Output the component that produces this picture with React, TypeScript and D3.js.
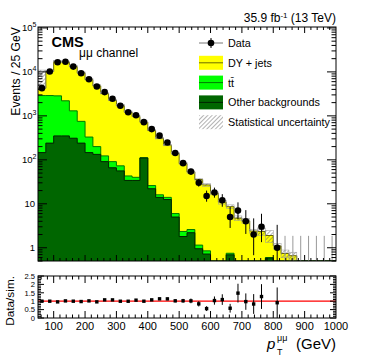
import React from 'react';
import * as d3 from 'd3';

// ---------- data ----------
const binWidth = 25;
const binLowEdges: number[] = d3.range(50, 1000, binWidth); // 38 bins, 50-1000 GeV

const dataCounts: (number | null)[] = [
  4270, 10200, 16600, 17000, 13200, 9350, 6800, 4650, 3470, 2450,
  1700, 1210, 1030, 720, 500, 355, 247, 143, 84, 54,
  30, 15, 18, 12, 5, 7, 4, 2, 3, null,
  1, 0, 0, 0, 0, 0, 0, 0,
];

const dyJets: number[] = [
  1370, 7300, 14450, 14500, 11900, 8790, 6340, 4640, 3090, 2180,
  1630, 1170, 930, 608, 437, 295, 203, 134, 79.6, 50.4,
  34.5, 26, 17, 10.6, 7.85, 4.4, 3.85, 2.15, 2.1, 1.3,
  1.0, 0.67, 0.6, 0.42, 0.3, 0.25, 0.2, 0.15,
];

const ttbar: number[] = [
  2750, 2660, 2500, 1850, 990, 510, 184, 67, 32, 25,
  17, 9, 6, 2, 4, 2, 1.5, 1, 0.55, 0.4,
  0.2, 0.13, 0.05, 0.05, 0.06, 0.03, 0.03, 0.03, 0.03, 0.02,
  0.02, 0.02, 0.01, 0.01, 0.01, 0.01, 0.01, 0.01,
];

const otherBkg: number[] = [
  146, 240, 350, 350, 310, 240, 146, 133, 91, 66,
  56, 34, 34, 110, 22, 14, 12.5, 5, 1.8, 2.2,
  0.95, 0.72, 0.3, 0.3, 0.69, 0.3, 0.22, 0.22, 0.22, 0.58,
  0.08, 0.05, 0.05, 0.04, 0.03, 0.03, 0.02, 0.02,
];

// relative statistical uncertainty of the simulation (up / down)
const statUncUp: number[] = [
  1.58, 0.02, 0.015, 0.015, 0.015, 0.015, 0.02, 0.02, 0.02, 0.02,
  0.025, 0.03, 0.03, 0.03, 0.03, 0.04, 0.04, 0.05, 0.05, 0.06,
  0.06, 0.07, 0.08, 0.1, 0.1, 0.12, 0.12, 0.1, 0.2, 0.3,
  0.15, 0.2, 0.2, 0.2, 0.2, 0.2, 0.2, 0.2,
];
const statUncDown: number[] = [
  0.02, 0.02, 0.015, 0.015, 0.015, 0.015, 0.02, 0.02, 0.02, 0.02,
  0.025, 0.03, 0.03, 0.03, 0.03, 0.04, 0.04, 0.05, 0.05, 0.06,
  0.06, 0.07, 0.08, 0.1, 0.1, 0.12, 0.12, 0.1, 0.2, 0.3,
  0.15, 0.2, 0.2, 0.2, 0.2, 0.2, 0.2, 0.2,
];

const xTickLabels: number[] = [100, 200, 300, 400, 500, 600, 700, 800, 900, 1000];
const yDecades: number[] = [1, 10, 100, 1000, 10000, 100000];
const ratioTickLabels: number[] = [0, 0.5, 1, 1.5, 2, 2.5];
const legendLabels: string[] = ['Data', 'DY + jets', 't\u0074\u0304', 'Other backgrounds', 'Statistical uncertainty'];

// ---------- style ----------
const FONT = "'Liberation Sans', Arial, Helvetica, sans-serif";
const COL_DY = '#ffff00';
const COL_TT = '#00ff00';
const COL_OTHER = '#006600';
const LINE_DY = '#6b6b00';
const LINE_TT = '#007a00';
const LINE_OTHER = '#002200';

export default function App() {
  const W = 374, H = 359;
  const L = 38, Rt = 336;
  const mainTop = 27, mainBot = 261;
  const ratTop = 276, ratBot = 318;

  const x = d3.scaleLinear().domain([50, 1000]).range([L, Rt]);
  const y = d3.scaleLog().domain([0.5, 1.05e5]).range([mainBot, mainTop]).clamp(true);
  const yr = d3.scaleLinear().domain([0, 2.5]).range([ratBot, ratTop]).clamp(true);

  const totals = binLowEdges.map((_, i) => dyJets[i] + ttbar[i] + otherBkg[i]);
  const ttPlusOther = binLowEdges.map((_, i) => ttbar[i] + otherBkg[i]);

  const steps = (vals: number[]) =>
    binLowEdges.flatMap((e, i) => [[e, vals[i]], [e + binWidth, vals[i]]] as [number, number][]);
  const area = d3.area<[number, number]>().x(d => x(d[0])).y0(mainBot).y1(d => y(d[1]));
  const line = d3.line<[number, number]>().x(d => x(d[0])).y(d => y(d[1]));

  const layers = [
    { vals: totals, fill: COL_DY, stroke: LINE_DY },
    { vals: ttPlusOther, fill: COL_TT, stroke: LINE_TT },
    { vals: otherBkg, fill: COL_OTHER, stroke: LINE_OTHER },
  ];

  // ticks
  const logTicks = y.ticks();
  const isDecade = (v: number) => Math.abs(Math.log10(v) - Math.round(Math.log10(v))) < 1e-6;
  const xMinor = d3.range(60, 1000, 20);
  const ratioMinor = d3.range(0, 2.51, 0.1);

  const binCenter = (i: number) => x(binLowEdges[i] + binWidth / 2);

  return (
    <svg width={W} height={H} style={{ position: 'absolute', left: 0, top: 0, background: '#fff' }}
      fontFamily={FONT}>
      <defs>
        <clipPath id="mainClip"><rect x={L} y={mainTop} width={Rt - L} height={mainBot - mainTop} /></clipPath>
        <clipPath id="ratClip"><rect x={L} y={ratTop} width={Rt - L} height={ratBot - ratTop} /></clipPath>
        <pattern id="hatch" width={3} height={3} patternUnits="userSpaceOnUse" patternTransform="rotate(45)">
          <line x1={0} y1={0} x2={0} y2={3} stroke="#555" strokeWidth={0.9} />
        </pattern>
      </defs>
      <rect x={0} y={0} width={W} height={H} fill="#fff" />

      {/* ---------- main panel ---------- */}
      <g clipPath="url(#mainClip)">
        {layers.map((ly, k) => (
          <g key={k}>
            <path d={area(steps(ly.vals)) || ''} fill={ly.fill} />
            <path d={line(steps(ly.vals)) || ''} fill="none" stroke={ly.stroke} strokeWidth={1} />
          </g>
        ))}
        {/* statistical uncertainty band */}
        {binLowEdges.map((e, i) => {
          const t = totals[i];
          const yHi = y(t * (1 + statUncUp[i]));
          const yLo = y(Math.max(t * (1 - statUncDown[i]), 1e-3));
          if (t < 0.5) return null;
          const h = Math.max(yLo - yHi, 1.4);
          return (
            <rect key={i} x={x(e)} y={yHi - (h > yLo - yHi ? 0.7 : 0)} width={x(e + binWidth) - x(e)} height={h}
              fill="url(#hatch)" stroke="#9a9a9a" strokeWidth={0.5} />
          );
        })}
        {/* data */}
        {dataCounts.map((n, i) => {
          if (n === null) return null;
          const cx = binCenter(i);
          if (n === 0) {
            const up = Math.sqrt(0.75) + 1;
            return <line key={i} x1={cx} x2={cx} y1={mainBot} y2={y(up)} stroke="#999" strokeWidth={1} />;
          }
          const hi = n + Math.sqrt(n + 0.75) + 1;
          const lo = n - Math.sqrt(n - 0.25);
          return (
            <g key={i}>
              <line x1={cx} x2={cx} y1={y(lo)} y2={y(hi)} stroke="#000" strokeWidth={1} />
              <circle cx={cx} cy={y(n)} r={3.3} fill="#000" />
            </g>
          );
        })}
      </g>

      {/* main ticks */}
      <g stroke="#000" strokeWidth={1}>
        {logTicks.map((t, i) => {
          const yy = y(t);
          const len = isDecade(t) ? 9 : 4.5;
          return (
            <g key={i}>
              <line x1={L} x2={L + len} y1={yy} y2={yy} />
              <line x1={Rt} x2={Rt - len} y1={yy} y2={yy} />
            </g>
          );
        })}
        {xMinor.map((v, i) => {
          const xx = x(v);
          const len = v % 100 === 0 ? 6 : 3;
          return (
            <g key={i}>
              <line x1={xx} x2={xx} y1={mainBot} y2={mainBot - len} />
              <line x1={xx} x2={xx} y1={mainTop} y2={mainTop + len} />
            </g>
          );
        })}
      </g>
      <rect x={L} y={mainTop} width={Rt - L} height={mainBot - mainTop} fill="none" stroke="#000" strokeWidth={1} />

      {/* main y labels */}
      {yDecades.map((v, i) => {
        const e = Math.round(Math.log10(v));
        const yy = y(v);
        if (e <= 1) {
          return <text key={i} x={35} y={yy + 3.5} fontSize={9.5} textAnchor="end">{String(v)}</text>;
        }
        return (
          <text key={i} x={36.5} y={yy + 3.5} fontSize={9.5} textAnchor="end">
            10<tspan fontSize={7} dy={-4.5}>{e}</tspan>
          </text>
        );
      })}
      <text transform={`translate(19.5, ${mainTop}) rotate(-90)`} fontSize={12.2} textAnchor="end">Events / 25 GeV</text>

      {/* header texts */}
      <text x={51.5} y={46.5} fontSize={14.5} fontWeight="bold">CMS</text>
      <text x={79} y={56.5} fontSize={12}>μμ channel</text>
      <text x={336} y={22} fontSize={12} textAnchor="end">
        35.9 fb<tspan fontSize={8} dy={-4.5}>-1</tspan><tspan dy={4.5}> (13 TeV)</tspan>
      </text>

      {/* legend */}
      <g fontSize={10.8}>
        {legendLabels.map((lab, i) => {
          const cy = 43 + i * 19.8;
          const bx = 199, bw = 24, bh = 14;
          let sym: React.ReactNode = null;
          if (i === 0) {
            sym = (
              <g>
                <line x1={bx} x2={bx + bw} y1={cy} y2={cy} stroke="#777" strokeWidth={1} />
                <line x1={bx + bw / 2} x2={bx + bw / 2} y1={cy - 5} y2={cy + 5} stroke="#000" strokeWidth={1} />
                <circle cx={bx + bw / 2} cy={cy} r={3.3} fill="#000" />
              </g>
            );
          } else if (i <= 3) {
            const fills = [COL_DY, COL_TT, COL_OTHER];
            const strokes = [LINE_DY, LINE_TT, LINE_OTHER];
            sym = (
              <g>
                <rect x={bx} y={cy - bh / 2} width={bw} height={bh} fill={fills[i - 1]} />
                <line x1={bx} x2={bx + bw} y1={cy} y2={cy} stroke={strokes[i - 1]} strokeWidth={1} />
              </g>
            );
          } else {
            sym = <rect x={bx} y={cy - bh / 2} width={bw} height={bh} fill="url(#hatch)" />;
          }
          return (
            <g key={i}>
              {sym}
              <text x={228} y={cy + 4}>{lab}</text>
            </g>
          );
        })}
      </g>

      {/* ---------- ratio panel ---------- */}
      <g clipPath="url(#ratClip)">
        <line x1={L} x2={Rt} y1={yr(1)} y2={yr(1)} stroke="#ff0000" strokeWidth={1.2} />
        {dataCounts.map((n, i) => {
          if (n === null || n === 0) return null;
          const t = totals[i];
          const r = n / t;
          const err = Math.sqrt(n) / t;
          const cx = binCenter(i);
          return (
            <g key={i}>
              <line x1={cx} x2={cx} y1={yr(r - err)} y2={yr(r + err)} stroke="#000" strokeWidth={1} />
              <rect x={cx - 1.7} y={yr(r) - 1.7} width={3.4} height={3.4} fill="#000" />
            </g>
          );
        })}
      </g>
      <g stroke="#000" strokeWidth={1}>
        {ratioMinor.map((v, i) => {
          const yy = yr(v);
          const major = Math.abs(v * 2 - Math.round(v * 2)) < 1e-6;
          const len = major ? 6 : 3;
          return (
            <g key={i}>
              <line x1={L} x2={L + len} y1={yy} y2={yy} />
              <line x1={Rt} x2={Rt - len} y1={yy} y2={yy} />
            </g>
          );
        })}
        {xMinor.map((v, i) => {
          const xx = x(v);
          const len = v % 100 === 0 ? 7 : 3.5;
          return (
            <g key={i}>
              <line x1={xx} x2={xx} y1={ratBot} y2={ratBot - len} />
              <line x1={xx} x2={xx} y1={ratTop} y2={ratTop + len} />
            </g>
          );
        })}
      </g>
      <rect x={L} y={ratTop} width={Rt - L} height={ratBot - ratTop} fill="none" stroke="#000" strokeWidth={1} />
      {ratioTickLabels.map((v, i) => (
        <text key={i} x={35} y={yr(v) + 2.7} fontSize={7.6} textAnchor="end">{String(v)}</text>
      ))}
      {xTickLabels.map((v, i) => (
        <text key={i} x={x(v)} y={330} fontSize={11} textAnchor="middle">{String(v)}</text>
      ))}
      <text transform={`translate(14, ${ratTop}) rotate(-90)`} fontSize={11.8} textAnchor="end">Data/sim.</text>

      {/* x title */}
      <text x={336} y={349} fontSize={15} textAnchor="end">(GeV)</text>
      <text x={267} y={349} fontSize={15} fontStyle="italic">p</text>
      <text x={277} y={341} fontSize={9}>μμ</text>
      <text x={277} y={354.5} fontSize={9}>T</text>
    </svg>
  );
}
